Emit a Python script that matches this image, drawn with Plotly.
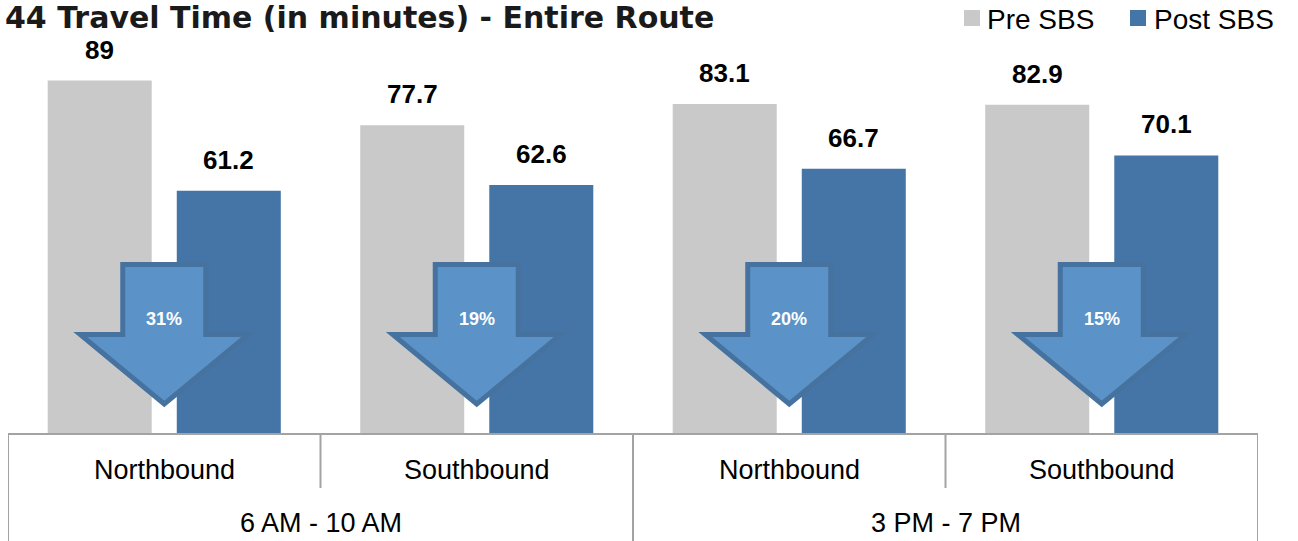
import plotly.graph_objects as go

# ---- data ----
directions = ["Northbound", "Southbound", "Northbound", "Southbound"]
periods = ["6 AM - 10 AM", "6 AM - 10 AM", "3 PM - 7 PM", "3 PM - 7 PM"]
pre_sbs = [89, 77.7, 83.1, 82.9]
post_sbs = [61.2, 62.6, 66.7, 70.1]
series_names = ["Pre SBS", "Post SBS"]
title_text = "44 Travel Time (in minutes) - Entire Route"

# ---- style ----
FONT = "Liberation Sans, Arial, Helvetica, sans-serif"
TITLE_FONT = "DejaVu Sans, Liberation Sans, sans-serif"
PRE_COLOR = "#C9C9C9"
POST_COLOR = "#4575A6"
ARROW_FILL = "#5B93C8"
ARROW_EDGE = "#4672A0"
FRAME_COLOR = "#A3A3A3"

W, H = 1298, 541
M_L, M_R, M_T, M_B = 8, 40, 37, 108
Y_MAX = 100
BARGAP, BARGROUPGAP = 0.174, 0.194

plot_w = W - M_L - M_R
plot_h = H - M_T - M_B
n = len(directions)
idx = list(range(n))
px_per_x = plot_w / n            # pixels per category unit
px_per_y = plot_h / Y_MAX        # pixels per minute
axis_px = H - M_B                # pixel row of the category axis line


def ydata(py):
    """pixel row -> data value"""
    return (axis_px - py) / px_per_y


def ypaper(py):
    return (axis_px - py) / plot_h


def xpaper(px):
    return (px - M_L) / plot_w


fig = go.Figure()
fig.add_trace(go.Bar(x=idx, y=pre_sbs, name=series_names[0], marker_color=PRE_COLOR,
                     marker_line_width=0, hoverinfo="y"))
fig.add_trace(go.Bar(x=idx, y=post_sbs, name=series_names[1], marker_color=POST_COLOR,
                     marker_line_width=0, hoverinfo="y"))

# bar centre offsets within a category (grouped bars)
slot = (1 - BARGAP) / 2
offsets = [-slot / 2, slot / 2]

annotations = []
shapes = []

# value labels above bars
for k, vals in enumerate([pre_sbs, post_sbs]):
    for i, v in enumerate(vals):
        annotations.append(dict(
            x=i + offsets[k], y=v, xref="x", yref="y", text=f"<b>{v:g}</b>",
            showarrow=False, yanchor="bottom", yshift=14,
            font=dict(family=FONT, size=26, color="#000000")))

# down arrows with the percentage reduction
body_hw, head_hw = 41.5, 84
top_py, shoulder_py, tip_py = 264.5, 334.5, 404
for i in idx:
    pct = round((pre_sbs[i] - post_sbs[i]) / pre_sbs[i] * 100)
    pts = [(-body_hw, top_py), (body_hw, top_py), (body_hw, shoulder_py),
           (head_hw, shoulder_py), (0, tip_py), (-head_hw, shoulder_py),
           (-body_hw, shoulder_py)]
    path = "M " + " L ".join(f"{i + dx / px_per_x:.5f},{ydata(py):.4f}" for dx, py in pts) + " Z"
    shapes.append(dict(type="path", path=path, xref="x", yref="y",
                       fillcolor=ARROW_FILL, line=dict(color=ARROW_EDGE, width=5),
                       layer="above"))
    annotations.append(dict(
        x=i, y=ydata(319), xref="x", yref="y", text=f"<b>{pct}%</b>",
        showarrow=False, font=dict(family=FONT, size=18, color="#FFFFFF")))

# category table under the axis
row1_py = axis_px + 55
for b in [k - 0.5 for k in range(n + 1)]:
    full = b in (-0.5, n - 0.5) or periods[int(b - 0.5)] != periods[int(b + 0.5)]
    shapes.append(dict(type="line", xref="x", yref="paper", x0=b, x1=b,
                       y0=0, y1=ypaper(H + 5 if full else row1_py),
                       line=dict(color=FRAME_COLOR, width=2)))

for i, d in enumerate(directions):
    annotations.append(dict(
        x=i, y=0, xref="x", yref="paper", text=d, showarrow=False,
        yanchor="middle", yshift=-37,
        font=dict(family=FONT, size=27, color="#000000")))

groups = []
for i, p in enumerate(periods):
    if not groups or groups[-1][0] != p:
        groups.append([p, []])
    groups[-1][1].append(i)
for p, members in groups:
    annotations.append(dict(
        x=sum(members) / len(members), y=0, xref="x", yref="paper", text=p,
        showarrow=False, yanchor="middle", yshift=-90,
        font=dict(family=FONT, size=27, color="#000000")))

# legend: colour swatch + series name
legend_items = [(964, 985), (1130, 1152)]   # swatch left, text left (px)
for (sw_x, tx_x), name, color in zip(legend_items, series_names, [PRE_COLOR, POST_COLOR]):
    shapes.append(dict(type="rect", xref="paper", yref="paper",
                       x0=xpaper(sw_x), x1=xpaper(sw_x + 16),
                       y0=ypaper(26), y1=ypaper(10),
                       fillcolor=color, line=dict(width=0)))
    annotations.append(dict(
        x=xpaper(tx_x), y=ypaper(20), xref="paper", yref="paper", text=name,
        showarrow=False, xanchor="left", yanchor="middle",
        font=dict(family=FONT, size=28, color="#000000")))

# chart title
annotations.append(dict(
    x=0, y=ypaper(17.5), xref="paper", yref="paper", text=f"<b>{title_text}</b>",
    showarrow=False, xanchor="left", yanchor="middle", xshift=-5,
    font=dict(family=TITLE_FONT, size=30, color="#1A1A1A")))

fig.update_layout(
    width=W, height=H, autosize=False,
    margin=dict(l=M_L, r=M_R, t=M_T, b=M_B, pad=0, autoexpand=False),
    paper_bgcolor="white", plot_bgcolor="white",
    barmode="group", bargap=BARGAP, bargroupgap=BARGROUPGAP,
    font=dict(family=FONT, color="#000000"),
    xaxis=dict(range=[-0.5, n - 0.5], showticklabels=False, showgrid=False,
               zeroline=False, showline=True, linecolor=FRAME_COLOR, linewidth=2,
               ticks="", fixedrange=True),
    yaxis=dict(range=[0, Y_MAX], visible=False, fixedrange=True),
    showlegend=False,
    shapes=shapes,
    annotations=annotations,
)

fig.write_html("out.html")
